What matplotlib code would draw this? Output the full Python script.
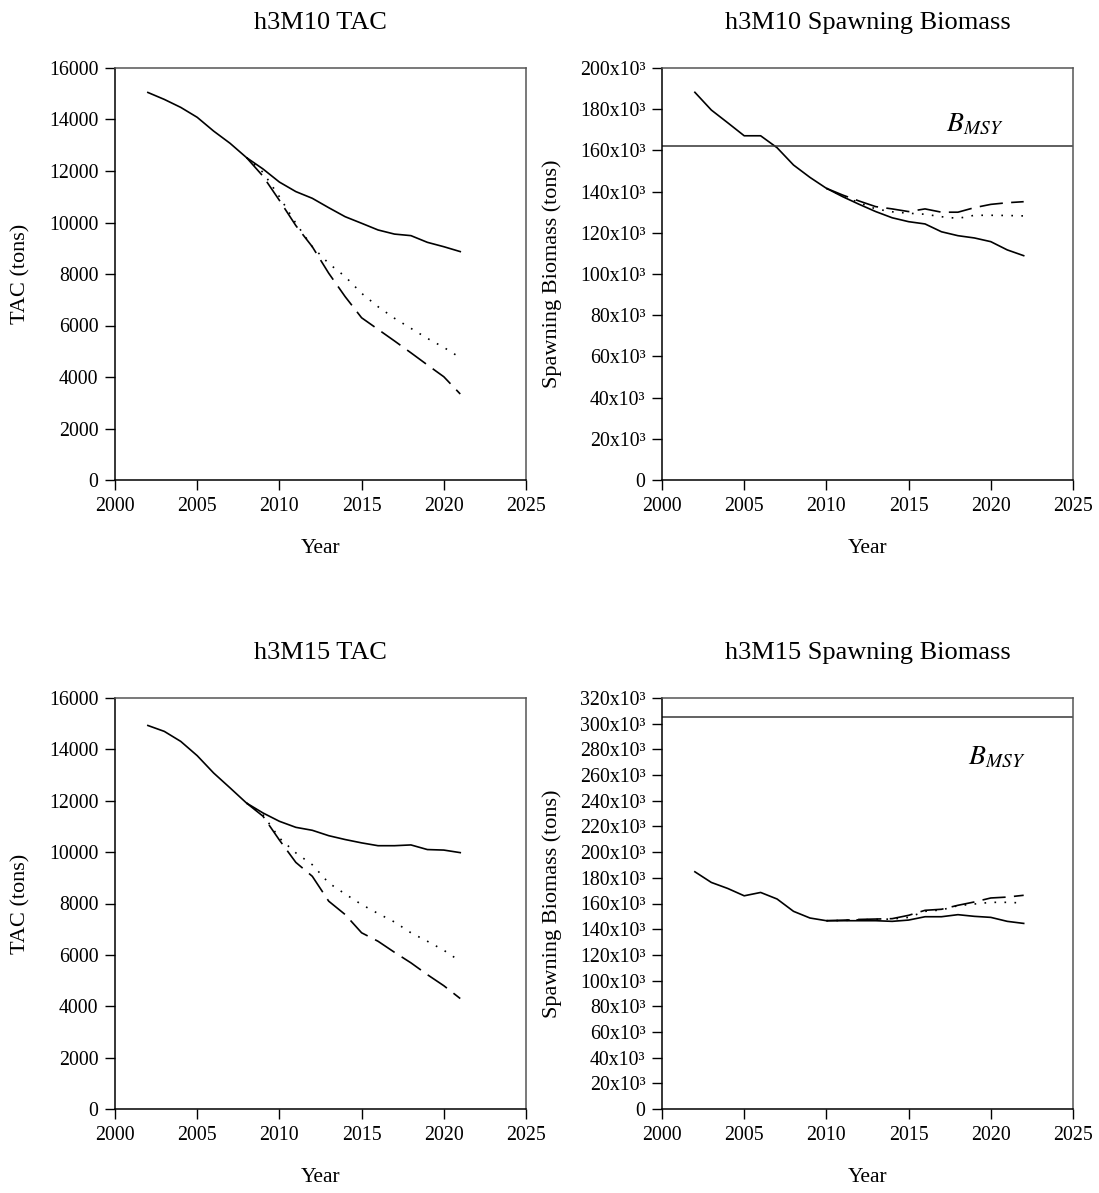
import matplotlib
matplotlib.use("Agg")
import matplotlib.pyplot as plt

plt.rcParams['font.family'] = ['Liberation Serif', 'DejaVu Serif']
plt.rcParams['mathtext.fontset'] = 'stix'

# ---------------- data ----------------
years_tac = list(range(2002, 2022))
years_ssb = list(range(2002, 2023))

# h3M10 TAC
m10_tac_solid = [15050, 14780, 14470, 14085, 13550, 13075, 12520, 12080, 11570, 11200,
                 10940, 10575, 10225, 9970, 9710, 9550, 9490, 9230, 9060, 8870]
m10_tac_dot = [None] * 6 + [12520, 11950, 11000, 9970, 9060, 8410, 7900, 7250, 6730,
                            6280, 5890, 5500, 5150, 4750]
m10_tac_dash = [None] * 6 + [12520, 11800, 10860, 9880, 9060, 8030, 7120, 6300, 5850,
                             5400, 4940, 4470, 4010, 3340]

# h3M10 Spawning biomass (x1000 t)
m10_ssb_solid = [188.2, 179.6, 173.4, 167.1, 167.1, 161.3, 152.9, 146.9, 141.6, 137.5,
                 133.8, 130.3, 127.3, 125.4, 124.3, 120.5, 118.6, 117.5, 115.7, 111.7, 108.9]
m10_ssb_dot = [None] * 8 + [141.6, 137.8, 134.6, 131.6, 130.2, 129.5, 129.0, 127.8,
                            127.0, 128.5, 128.5, 128.4, 128.2]
m10_ssb_dash = [None] * 8 + [141.6, 138.3, 135.4, 132.7, 131.6, 130.3, 131.6, 130.0,
                             130.0, 132.2, 133.8, 134.6, 135.1]
m10_bmsy = 162.2

# h3M15 TAC
m15_tac_solid = [14930, 14700, 14310, 13755, 13080, 12500, 11910, 11525, 11200, 10965,
                 10850, 10640, 10490, 10360, 10250, 10250, 10280, 10100, 10080, 9980]
m15_tac_dot = [None] * 6 + [11910, 11450, 10550, 9970, 9510, 8800, 8370, 7960, 7610,
                            7280, 6860, 6530, 6180, 5750]
m15_tac_dash = [None] * 6 + [11910, 11400, 10470, 9600, 9060, 8090, 7570, 6860, 6530,
                             6100, 5690, 5230, 4800, 4300]

# h3M15 Spawning biomass (x1000 t)
m15_ssb_solid = [184.7, 176.4, 171.7, 166.0, 168.6, 163.5, 153.9, 148.7, 146.6, 146.6,
                 146.6, 146.6, 146.1, 147.1, 149.7, 149.7, 151.3, 150.0, 149.2, 146.1, 144.5]
m15_ssb_dot = [None] * 8 + [146.6, 146.8, 147.3, 147.6, 147.9, 149.2, 153.9, 155.0,
                            158.3, 159.6, 160.9, 160.9, 160.4]
m15_ssb_dash = [None] * 8 + [146.6, 147.0, 147.6, 147.9, 148.2, 150.8, 154.7, 155.5,
                             158.6, 161.2, 164.3, 165.0, 166.4]
m15_bmsy = 304.9

tac_ticks = list(range(0, 16001, 2000))
m10_ssb_ticks = list(range(0, 201, 20))
m15_ssb_ticks = list(range(0, 321, 20))
x_ticks = [2000, 2005, 2010, 2015, 2020, 2025]

titles = ["h3M10 TAC", "h3M10 Spawning Biomass", "h3M15 TAC", "h3M15 Spawning Biomass"]

# ---------------- figure ----------------
fig = plt.figure(figsize=(10.99, 11.93), dpi=100)
W, H = 1099, 1193


def make_ax(l, r, t, b):
    return fig.add_axes([l / W, 1 - b / H, (r - l) / W, (b - t) / H])


ax_tl = make_ax(115, 526, 68, 480)
ax_tr = make_ax(662, 1073, 68, 480)
ax_bl = make_ax(115, 526, 698, 1109)
ax_br = make_ax(662, 1073, 698, 1109)

dash_style = (0, (14, 5))
dot_style = (0, (1, 5))
LW = 1.2


def style(ax, title, ylabel, ymax, yticks, ylabels):
    ax.set_xlim(2000, 2025)
    ax.set_ylim(0, ymax)
    ax.set_xticks(x_ticks)
    ax.set_xticklabels([str(x) for x in x_ticks])
    ax.set_yticks(yticks)
    ax.set_yticklabels(ylabels)
    ax.tick_params(direction='out', length=7, width=1, labelsize=14.3, pad=5,
                   top=False, right=False)
    for s in ['left', 'bottom']:
        ax.spines[s].set_color('black')
        ax.spines[s].set_linewidth(1.1)
    for s in ['top', 'right']:
        ax.spines[s].set_color('#555555')
        ax.spines[s].set_linewidth(1.1)
    ax.set_title(title, fontsize=19, pad=28)
    ax.set_xlabel("Year", fontsize=15.5, labelpad=17)
    ax.set_ylabel(ylabel, fontsize=16, labelpad=13)


def plot_three(ax, x, solid, dot, dash):
    ax.plot(x, solid, color='black', lw=LW, linestyle='-')
    xd = [xx for xx, v in zip(x, dot) if v is not None]
    vd = [v for v in dot if v is not None]
    ax.plot(xd, vd, color='black', lw=LW, linestyle=dot_style)
    xs = [xx for xx, v in zip(x, dash) if v is not None]
    vs = [v for v in dash if v is not None]
    ax.plot(xs, vs, color='black', lw=LW, linestyle=dash_style)


# top-left
plot_three(ax_tl, years_tac, m10_tac_solid, m10_tac_dot, m10_tac_dash)
style(ax_tl, titles[0], "TAC (tons)", 16000, tac_ticks, [str(v) for v in tac_ticks])

# top-right
plot_three(ax_tr, years_ssb, m10_ssb_solid, m10_ssb_dot, m10_ssb_dash)
ax_tr.axhline(m10_bmsy, color='#333333', lw=1.1)
style(ax_tr, titles[1], "Spawning Biomass (tons)", 200, m10_ssb_ticks,
      ["0" if v == 0 else f"{v}x10\u00b3" for v in m10_ssb_ticks])
ax_tr.text(2017.3, 169, r'$B_{MSY}$', fontsize=20, ha='left', va='baseline')

# bottom-left
plot_three(ax_bl, years_tac, m15_tac_solid, m15_tac_dot, m15_tac_dash)
style(ax_bl, titles[2], "TAC (tons)", 16000, tac_ticks, [str(v) for v in tac_ticks])

# bottom-right
plot_three(ax_br, years_ssb, m15_ssb_solid, m15_ssb_dot, m15_ssb_dash)
ax_br.axhline(m15_bmsy, color='#555555', lw=1.3)
style(ax_br, titles[3], "Spawning Biomass (tons)", 320, m15_ssb_ticks,
      ["0" if v == 0 else f"{v}x10\u00b3" for v in m15_ssb_ticks])
ax_br.text(2018.6, 268, r'$B_{MSY}$', fontsize=20, ha='left', va='baseline')

fig.savefig("out.png", dpi=100, facecolor='white')
